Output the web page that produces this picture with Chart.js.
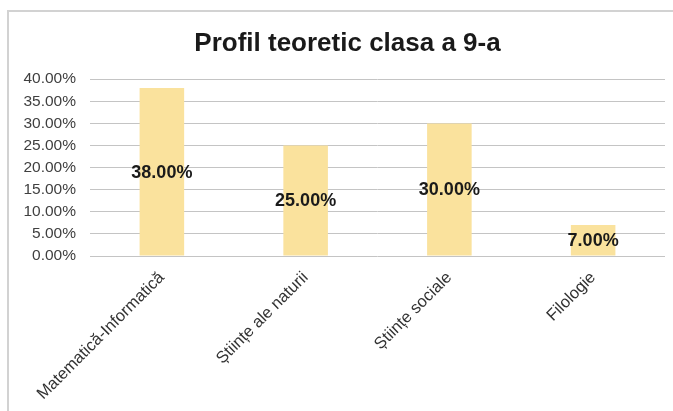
<!DOCTYPE html>
<html><head><meta charset="utf-8">
<script src="https://cdn.jsdelivr.net/npm/chart.js@4"></script>
<style>
html,body{margin:0;padding:0;background:#fff;overflow:hidden}
#wrap{position:relative;width:673px;height:411px}
#frame{position:absolute;left:7px;top:10px;right:0;bottom:0;border-top:2px solid #d2d2d2;border-left:2px solid #d2d2d2;pointer-events:none}
</style></head><body>
<div id="wrap"><canvas id="c"></canvas><div id="frame"></div></div>
<script>
const chartTitle = "Profil teoretic clasa a 9-a";
const categories = ["Matematică-Informatică", "Științe ale naturii", "Științe sociale", "Filologie"];
const percentages = [38, 25, 30, 7];
const yMin = 0, yMax = 40, yStep = 5;

const FONT = '"Liberation Sans", Arial, sans-serif';

const centerLabels = {
  id: 'centerLabels',
  afterDatasetsDraw(chart) {
    const ctx = chart.ctx;
    const meta = chart.getDatasetMeta(0);
    ctx.save();
    ctx.font = 'bold 18px ' + FONT;
    ctx.fillStyle = '#1a1a1a';
    ctx.textAlign = 'center';
    ctx.textBaseline = 'middle';
    meta.data.forEach((bar, i) => {
      const v = chart.data.datasets[0].data[i];
      ctx.fillText(v.toFixed(2) + '%', bar.x, (bar.y + bar.base) / 2 + 1);
    });
    ctx.restore();
  }
};

// shift the title box so it is centred like the reference (between frame and plot right edge)
const titleShift = {
  id: 'titleShift',
  afterLayout(chart) {
    if (chart.titleBlock) { chart.titleBlock.left = 30; }
  }
};

new Chart(document.getElementById('c'), {
  type: 'bar',
  data: {
    labels: categories,
    datasets: [{
      data: percentages,
      backgroundColor: '#FAE29D',
      borderWidth: 0,
      categoryPercentage: 1,
      barPercentage: 0.31
    }]
  },
  options: {
    responsive: true,
    maintainAspectRatio: false,
    animation: false,
    layout: { padding: { left: 0, right: 8, top: 0, bottom: 0 } },
    plugins: {
      legend: { display: false },
      tooltip: { enabled: false },
      title: {
        display: true,
        text: chartTitle,
        color: '#1a1a1a',
        font: { family: FONT, size: 26, weight: 'bold', lineHeight: 1.2 },
        padding: { top: 28, bottom: 20 }
      }
    },
    scales: {
      x: {
        grid: { display: false, drawTicks: false },
        border: { display: false },
        ticks: {
          color: '#333333',
          font: { family: FONT, size: 16.5 },
          maxRotation: 45,
          minRotation: 45,
          autoSkip: false,
          padding: 12
        },
        afterFit(scale) { scale.height = 155; }
      },
      y: {
        min: yMin,
        max: yMax,
        grid: { color: '#c4c4c4', lineWidth: 1, drawTicks: false },
        border: { display: false },
        ticks: {
          stepSize: yStep,
          autoSkip: false,
          color: '#404040',
          font: { family: FONT, size: 15.5, lineHeight: 1 },
          padding: 14,
          callback: v => v.toFixed(2) + '%'
        },
        afterFit(scale) { scale.width = 90; }
      }
    }
  },
  plugins: [centerLabels, titleShift]
});
</script>
</body></html>
